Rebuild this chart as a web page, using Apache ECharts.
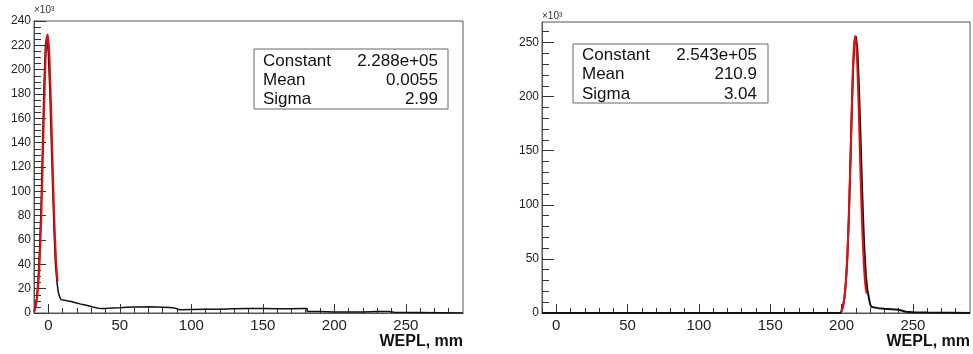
<!DOCTYPE html>
<html>
<head>
<meta charset="utf-8">
<script src="https://cdn.jsdelivr.net/npm/echarts@6/dist/echarts.min.js"></script>
<style>
  html, body { margin: 0; padding: 0; background: #fff; }
  #chart { width: 973px; height: 354px; }
</style>
</head>
<body>
<div id="chart"></div>
<script>
// left histogram (WEPL, mm  vs counts x10^3), step starts at each x
var leftBinX = [-10, -9, -8, -7, -6, -5, -4, -3, -2, -1, 0, 1, 2, 3, 4, 5, 6, 7, 8, 9, 10, 13, 16, 19, 22, 25, 28, 31, 34, 37, 40, 45, 50, 55, 60, 65, 70, 75, 80, 85, 88, 92, 100, 110, 120, 125, 130, 140, 150, 160, 170, 178, 181, 190, 200, 210, 220, 230, 238, 242, 290];
var leftBinY = [1, 5, 14, 30, 55, 90, 140, 188, 220, 228, 214, 185, 145, 105, 68, 40, 26, 17, 13, 11, 10, 9.5, 8.5, 7.5, 6.8, 6, 5, 4.2, 3.6, 3.8, 4.2, 4.4, 4.8, 5, 5, 5.2, 5, 4.8, 4.6, 4.2, 2.6, 2.8, 3, 3, 3.3, 3.5, 3.6, 3.6, 3.4, 3.5, 3.8, 3.8, 1.2, 0.9, 0.8, 0.9, 1.2, 1.3, 0.6, 0, 0];
// left gaussian fit
var leftFitX = [-10, -9.5, -8.5, -7.5, -6.5, -5.5, -4.5, -3.5, -2.5, -1.5, -0.5, 0.5, 1.5, 2.5, 3.5, 4.5, 5.5, 6.5];
var leftFitY = [1, 2, 7, 16, 32, 58, 95, 142, 186, 218, 229, 218, 186, 146, 104, 68, 42, 26];

// right histogram
var rightBinX = [-10, 199, 200, 201, 202, 203, 204, 205, 206, 207, 208, 209, 210, 211, 212, 213, 214, 215, 216, 217, 218, 219, 220, 221, 222, 226, 230, 235, 240, 245, 250, 260, 290];
var rightBinY = [0, 0.5, 2, 6, 14, 28, 50, 85, 130, 180, 225, 250, 256, 245, 215, 175, 130, 90, 58, 35, 22, 15, 8, 5.5, 4.5, 4, 3.5, 3, 1.2, 0.8, 0.5, 0, 0];
// right gaussian fit
var rightFitX = [199.5, 200.5, 201.5, 202.5, 203.5, 204.5, 205.5, 206.5, 207.5, 208.5, 209.5, 210.5, 211.5, 212.5, 213.5, 214.5, 215.5, 216.5, 217.5];
var rightFitY = [1, 4, 10, 21, 40, 68, 108, 155, 205, 242, 256, 242, 210, 165, 118, 78, 48, 28, 18];

// ticks
var xMajor = [0, 50, 100, 150, 200, 250];
var xMinor = [-10, 10, 20, 30, 40, 60, 70, 80, 90, 110, 120, 130, 140, 160, 170, 180, 190, 210, 220, 230, 240, 260, 270, 280];
var leftYMajor = [0, 20, 40, 60, 80, 100, 120, 140, 160, 180, 200, 220, 240];
var leftYMinor = [5, 10, 15, 25, 30, 35, 45, 50, 55, 65, 70, 75, 85, 90, 95, 105, 110, 115, 125, 130, 135, 145, 150, 155, 165, 170, 175, 185, 190, 195, 205, 210, 215, 225, 230, 235];
var rightYMajor = [0, 50, 100, 150, 200, 250];
var rightYMinor = [10, 20, 30, 40, 60, 70, 80, 90, 110, 120, 130, 140, 160, 170, 180, 190, 210, 220, 230, 240, 260];

// stats box text
var leftStats = [['Constant', '2.288e+05'], ['Mean', '0.0055'], ['Sigma', '2.99']];
var rightStats = [['Constant', '2.543e+05'], ['Mean', '210.9'], ['Sigma', '3.04']];

var font = "'Liberation Sans', Arial, Helvetica, sans-serif";
var axisColor = '#555';
var tickColor = '#333';

function pairs(xs, ys) {
    return xs.map(function (x, i) { return [x, ys[i]]; });
}

function xAxes(gridIndex) {
    return [
        {
            type: 'value', gridIndex: gridIndex, position: 'bottom', min: -10, max: 290,
            name: 'WEPL, mm', nameLocation: 'end', nameGap: 0,
            nameTextStyle: {
                fontFamily: font, fontSize: 16, fontWeight: 'bold', color: '#111',
                align: 'right', verticalAlign: 'top', padding: [21, 0, 0, 0]
            },
            axisLine: { show: true, onZero: false, lineStyle: { color: axisColor, width: 1 } },
            axisTick: { show: true, inside: true, length: 9, customValues: xMajor, lineStyle: { color: tickColor, width: 1 } },
            axisLabel: { customValues: xMajor, fontFamily: font, fontSize: 15, color: '#222', margin: 5 },
            splitLine: { show: false }
        },
        {
            type: 'value', gridIndex: gridIndex, position: 'bottom', min: -10, max: 290,
            axisLine: { show: false, onZero: false },
            axisTick: { show: true, inside: true, length: 5, customValues: xMinor, lineStyle: { color: tickColor, width: 1 } },
            axisLabel: { show: false },
            splitLine: { show: false }
        }
    ];
}

function yAxes(gridIndex, max, major, minor) {
    return [
        {
            type: 'value', gridIndex: gridIndex, position: 'left', min: 0, max: max,
            name: '×10³', nameLocation: 'end', nameGap: 1,
            nameTextStyle: { fontFamily: font, fontSize: 10, color: '#333', align: 'left', verticalAlign: 'bottom' },
            axisLine: { show: true, onZero: false, lineStyle: { color: axisColor, width: 1 } },
            axisTick: { show: true, inside: true, length: 12, customValues: major, lineStyle: { color: tickColor, width: 1 } },
            axisLabel: { customValues: major, fontFamily: font, fontSize: 12, color: '#222', margin: 3 },
            splitLine: { show: false }
        },
        {
            type: 'value', gridIndex: gridIndex, position: 'left', min: 0, max: max,
            axisLine: { show: false, onZero: false },
            axisTick: { show: true, inside: true, length: 7, customValues: minor, lineStyle: { color: tickColor, width: 1 } },
            axisLabel: { show: false },
            splitLine: { show: false }
        }
    ];
}

function statsBox(left, top, width, height, valueRight, rows, firstRowY) {
    var children = [{
        type: 'rect',
        shape: { x: left, y: top, width: width, height: height },
        style: { fill: '#fff', stroke: '#666', lineWidth: 1 }
    }];
    rows.forEach(function (r, i) {
        var y = firstRowY + i * 19.3;
        children.push({
            type: 'text', x: left + 9, y: y,
            style: { text: r[0], font: '17px ' + font, fill: '#111', textVerticalAlign: 'middle' }
        });
        children.push({
            type: 'text', x: valueRight, y: y,
            style: { text: r[1], font: '17px ' + font, fill: '#111', textAlign: 'right', textVerticalAlign: 'middle' }
        });
    });
    return { type: 'group', children: children, z: 100 };
}

var chart = echarts.init(document.getElementById('chart'));
chart.setOption({
    animation: false,
    backgroundColor: '#fff',
    grid: [
        { left: 34, top: 21, width: 429, height: 292, show: true, borderColor: axisColor, borderWidth: 1, backgroundColor: '#fff' },
        { left: 542, top: 22, width: 429, height: 291, show: true, borderColor: axisColor, borderWidth: 1, backgroundColor: '#fff' }
    ],
    xAxis: xAxes(0).concat(xAxes(1)),
    yAxis: yAxes(0, 240, leftYMajor, leftYMinor).concat(yAxes(1, 269, rightYMajor, rightYMinor)),
    series: [
        {
            type: 'line', xAxisIndex: 0, yAxisIndex: 0, step: 'end', showSymbol: false,
            data: pairs(leftBinX, leftBinY),
            lineStyle: { color: '#111', width: 1.5 }, z: 2
        },
        {
            type: 'line', xAxisIndex: 0, yAxisIndex: 0, smooth: true, showSymbol: false,
            data: pairs(leftFitX, leftFitY),
            lineStyle: { color: '#e01010', width: 2 }, z: 3
        },
        {
            type: 'line', xAxisIndex: 2, yAxisIndex: 2, step: 'end', showSymbol: false,
            data: pairs(rightBinX, rightBinY),
            lineStyle: { color: '#111', width: 2 }, z: 2
        },
        {
            type: 'line', xAxisIndex: 2, yAxisIndex: 2, smooth: true, showSymbol: false,
            data: pairs(rightFitX, rightFitY),
            lineStyle: { color: '#e01010', width: 2 }, z: 3
        }
    ],
    graphic: [
        statsBox(254, 49, 194, 60, 438, leftStats, 61),
        statsBox(573, 44, 195, 59, 757, rightStats, 55.5)
    ]
});
</script>
</body>
</html>
